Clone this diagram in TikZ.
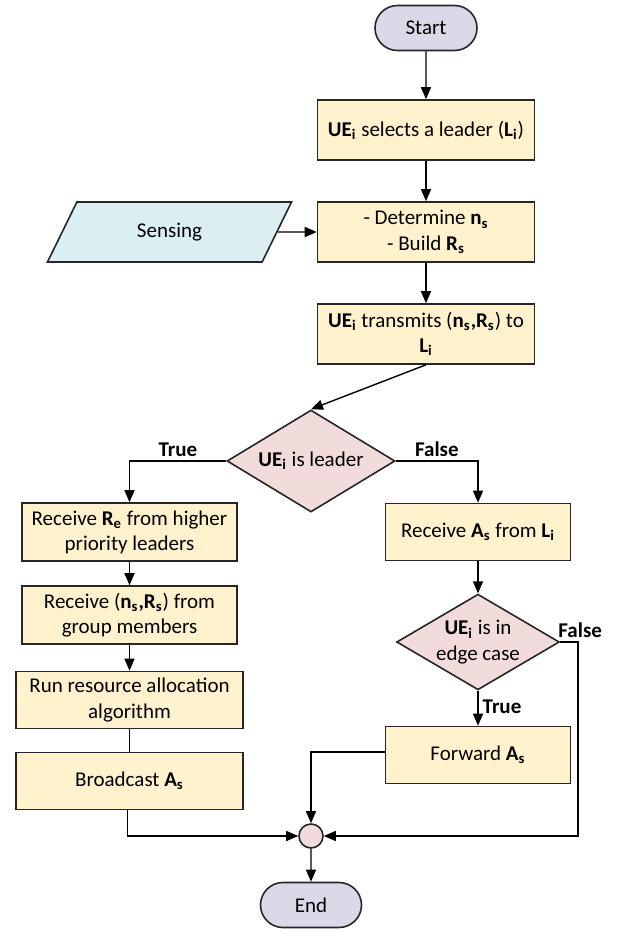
\documentclass[tikz,border=0pt]{standalone}
\usepackage{fontspec}
\setmainfont{Carlito}
\usetikzlibrary{shapes.geometric,shapes.misc,arrows.meta,chains,positioning}
\definecolor{boxfill}{HTML}{FFF2CC}
\definecolor{testfill}{HTML}{F2DCDB}
\definecolor{termfill}{HTML}{DCD8E8}
\definecolor{iofill}{HTML}{DAEEF3}
\newcommand{\varsub}[2]{\textbf{#1\textsubscript{#2}}}

\begin{document}
\begin{tikzpicture}[%
    start chain=going below,    % main column runs top-to-bottom
    node distance=51pt and 5cm, % centre-to-centre spacing (on grid)
    every join/.style={norm},
    ]
% -------------------------------------------------
% Box styles
\tikzset{
  node font=\fontsize{10.5}{12.6}\selectfont,
  base/.style={draw=black!85, line width=0.8pt, on grid, align=center, inner sep=2pt},
  proc/.style={base, on chain, rectangle, fill=boxfill, minimum width=108.5pt, minimum height=30pt},
  side/.style={base, rectangle, fill=boxfill, minimum width=107.5pt, minimum height=29pt},
  wide/.style={side, minimum width=113.5pt, minimum height=28.5pt},
  rbox/.style={side, minimum width=92.5pt, minimum height=28.5pt},
  test/.style={base, diamond, fill=testfill, aspect=1.7, inner sep=0.5pt},
  term/.style={base, rounded rectangle, fill=termfill, minimum width=55pt, minimum height=22.5pt},
  io/.style={base, trapezium, trapezium left angle=66, trapezium right angle=114,
    trapezium stretches=true, fill=iofill, minimum width=122.5pt, minimum height=30pt},
  junc/.style={base, circle, fill=testfill, minimum size=12pt, inner sep=0pt},
  lbl/.style={font=\fontsize{10.5}{12.6}\selectfont\bfseries, inner sep=2pt},
  % -------------------------------------------------
  % Connector line styles
  norm/.style={-{Triangle[length=6pt,width=5pt]}, draw, line width=0.7pt},
  plain/.style={draw, line width=0.7pt},
}
\useasboundingbox (0,0) rectangle (309pt,-474pt);
% -------------------------------------------------
% Main column
\node [term, on chain, at={(213pt,-14pt)}] (st) {Start};
\node [proc, join] (p1) {\varsub{UE}{i} selects a leader (\varsub{L}{i})};
\node [proc, join] (p2) {- Determine \varsub{n}{s}\\- Build \varsub{R}{s}};
\node [proc, join] (p3) {\varsub{UE}{i} transmits (\textbf{n\textsubscript{s},R\textsubscript{s}}) to\\\varsub{L}{i}};
\node [io, left=128.25pt of p2] (sens) {Sensing};
\node [test, minimum width=84pt, minimum height=51pt, below=63.5pt of p3, xshift=-57.5pt] (d1) {\varsub{UE}{i} is leader};
% -------------------------------------------------
% Leader branch
\node [side, below left=35.5pt and 90.75pt of d1] (l1) {Receive \varsub{R}{e} from higher\\priority leaders};
\node [side, below=41.5pt of l1] (l2) {Receive (\textbf{n\textsubscript{s},R\textsubscript{s}}) from\\group members};
\node [wide, below=42.5pt of l2] (l3) {Run resource allocation\\algorithm};
\node [wide, below=40.5pt of l3] (l4) {Broadcast \varsub{A}{s}};
% -------------------------------------------------
% Member branch
\node [rbox, below right=35.5pt and 83.5pt of d1] (r1) {Receive \varsub{A}{s} from \varsub{L}{i}};
\node [test, below=55pt of r1] (d2) {\varsub{UE}{i} is in\\edge case};
\node [rbox, below=56.5pt of d2] (r3) {Forward \varsub{A}{s}};
% -------------------------------------------------
% Merge and end
\node [junc, below=187.5pt of d1] (mrg) {};
\node [term, below=34.5pt of mrg, minimum width=54.5pt] (en) {End};
% -------------------------------------------------
% Connectors
\draw [norm] (sens) -- (p2);
\draw [norm] (p3.south) -- (d1.north);
\draw [norm] (d1.west) -| node [lbl, above, pos=0.25] {True} (l1.north);
\draw [norm] (d1.east) -| node [lbl, above, pos=0.25] {False} (r1.north);
\draw [norm] (l1) -- (l2);
\draw [norm] (l2) -- (l3);
\draw [plain] (l3) -- (l4);
\draw [norm] ([xshift=-1pt]l4.south) |- (mrg.west);
\draw [norm] (r1) -- (d2);
\draw [norm] (d2) -- node [lbl, right, pos=0.45] {True} (r3);
\draw [norm] (d2.east) -- ++(9pt,0) node [lbl, above, pos=1, xshift=1pt] {False} |- (mrg.east);
\draw [norm] ([yshift=1.5pt]r3.west) -| (mrg.north);
\draw [norm] (mrg) -- (en);
\end{tikzpicture}
\end{document}
